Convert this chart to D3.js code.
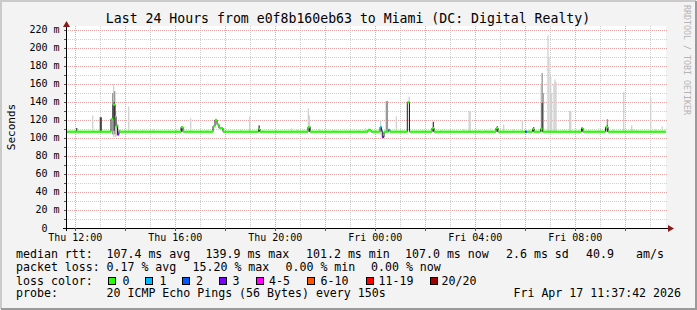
<!DOCTYPE html>
<html>
<head>
<meta charset="utf-8">
<script src="https://cdn.jsdelivr.net/npm/d3@7"></script>
<style>
  body { margin: 0; background: #f3f3f3; }
  svg { display: block; }
  text { font-family: "DejaVu Sans Mono", monospace; }
</style>
</head>
<body>
<script>
// times are hours since Thu 00:00 (Thu Apr 16 2026)
var startHour = 11.628, endHour = 35.628;

// median rtt as a step function: segment start, value (ms), lost pings
var medStart = [11.628, 13.428, 13.508, 13.588, 13.628, 13.688, 13.748, 13.788, 16.228, 16.308,
    17.508, 17.588, 17.668, 17.748, 17.908, 19.328, 19.388, 21.308, 21.388, 23.708,
    23.828, 24.188, 24.248, 24.28, 24.348, 24.528, 24.588, 25.28, 25.368, 26.268,
    26.348, 28.828, 28.908, 29.988, 30.068, 30.288, 30.348, 30.608, 30.688, 32.248,
    32.308, 33.208, 33.308];
var medValue = [107, 121, 137, 124, 113, 104, 108, 107, 112, 107,
    113, 120, 115, 111, 107, 110, 107, 112, 107, 109,
    107, 112, 108, 101, 107, 109, 107, 139.6, 107, 111,
    107, 111, 107, 107, 107, 110, 107, 110, 107, 111,
    107, 112, 107];
var medLoss = [0, 0, 0, 0, 0, 3, 0, 0, 0, 0,
    0, 0, 0, 0, 0, 0, 0, 0, 0, 0,
    0, 1, 2, 3, 0, 1, 0, 0, 0, 0,
    0, 0, 0, 2, 0, 0, 0, 0, 0, 0,
    0, 0, 0];

// smoke (spread of the 20 pings): time, low, high, shade 0 light / 1 mid / 2 dark
var smokeTime = [12.028, 12.668, 12.976, 13.008, 13.468, 13.508, 13.548, 13.528, 13.588, 13.628,
    13.668, 14.108, 16.228, 16.588, 18.948, 19.328, 21.296, 21.336, 21.348, 24.188,
    24.416, 24.456, 24.816, 25.328, 26.296, 27.728, 27.768, 28.856, 29.108, 29.856,
    30.308, 30.648, 30.608, 30.648, 30.688, 30.88, 30.92, 30.988, 31.028, 31.12,
    31.16, 31.2, 31.748, 31.788, 32.248, 33.256, 33.256, 33.908, 34.228, 34.988,
    35.456];
var smokeLow = [107, 107, 107, 107, 104, 101, 104, 108, 101, 102,
    103, 107, 107, 107, 107, 107, 107, 107, 107, 104,
    107, 107, 107, 107, 107, 107, 107, 107, 107, 107,
    107, 107, 107, 107, 107, 107, 107, 107, 107, 107,
    107, 107, 107, 107, 107, 107, 107, 107, 107, 107,
    107];
var smokeHigh = [111, 125, 123, 123, 150, 160, 152, 140, 130, 118,
    115, 135, 113, 122, 124, 114, 133, 125, 113, 120,
    141, 141, 124, 146, 118, 130, 130, 113, 115, 120,
    112, 172, 160, 139, 150, 214, 190, 168, 150, 160,
    165, 162, 130, 130, 111, 121, 114, 151, 114, 145,
    113];
var smokeShade = [2, 0, 2, 2, 1, 0, 1, 2, 0, 0,
    1, 0, 2, 0, 0, 2, 0, 0, 2, 0,
    1, 1, 0, 0, 2, 0, 0, 2, 0, 0,
    2, 1, 0, 2, 1, 0, 0, 0, 0, 0,
    0, 0, 0, 0, 2, 1, 2, 0, 0, 0,
    0];

// faint haze just above the median line
var hazeTime = [14.348, 14.668, 15.108, 16.028, 17.228, 18.588, 19.468, 20.628, 20.868, 21.108,
    21.748, 22.308, 23.308, 23.588, 25.868, 26.588, 27.508, 28.108, 28.388, 28.588,
    29.508, 30.108, 31.508, 32.108, 32.508, 32.908, 33.508, 34.308, 34.428, 35.188];
var hazeHigh = [110, 109, 110, 109, 110, 109, 110, 111, 110, 109,
    110, 109, 110, 111, 109, 110, 110, 110, 109, 111,
    110, 110, 109, 110, 110, 111, 110, 110, 109, 110];

var lossLabels = ["0", "1", "2", "3", "4-5", "6-10", "11-19", "20/20"];
var lossColors = ["#26ff00", "#00b8ff", "#0059ff", "#7e00ff", "#ff00ff", "#ff5500", "#ff0000", "#a10000"];
var yTicks = [0, 20, 40, 60, 80, 100, 120, 140, 160, 180, 200, 220];

var w = 697, h = 310;
var day0 = new Date(2026, 3, 16, 0, 0, 0).getTime();
function toDate(hr) { return new Date(day0 + hr * 3600e3); }

var x = d3.scaleTime().domain([toDate(startHour), toDate(endHour)]).range([66, 666]);
var y = d3.scaleLinear().domain([0, 224.4]).range([228, 26]);

var svg = d3.select("body").append("svg")
    .attr("width", w)
    .attr("height", h);

// frame
svg.append("rect").attr("width", w).attr("height", h).attr("fill", "#f3f3f3");
svg.append("path").attr("d", "M1,309V1H696").attr("fill", "none").attr("stroke", "#cacaca").attr("stroke-width", 2);
svg.append("path").attr("d", "M1,309H696V1").attr("fill", "none").attr("stroke", "#9a9a9a").attr("stroke-width", 2);

// canvas
svg.append("rect").attr("x", 66).attr("y", 26).attr("width", 600).attr("height", 202).attr("fill", "#fff");

// grid
var hours = d3.timeHour.range(toDate(startHour), toDate(endHour));
svg.selectAll(".vgrid")
    .data(hours)
    .enter()
    .append("line")
    .attr("x1", function(d) { return Math.round(x(d)) + 0.5; })
    .attr("x2", function(d) { return Math.round(x(d)) + 0.5; })
    .attr("y1", 26)
    .attr("y2", 228)
    .attr("stroke", function(d) { return d.getHours() % 2 == 0 ? "#e8a4a4" : "#cfcfcf"; })
    .attr("stroke-dasharray", "1,1");

var yGrid = d3.range(10, 221, 10);
svg.selectAll(".hgrid")
    .data(yGrid)
    .enter()
    .append("line")
    .attr("x1", 66)
    .attr("x2", 668)
    .attr("y1", function(d) { return Math.round(y(d)) + 0.5; })
    .attr("y2", function(d) { return Math.round(y(d)) + 0.5; })
    .attr("stroke", function(d) { return d % 20 == 0 ? "#e8a4a4" : "#cfcfcf"; })
    .attr("stroke-dasharray", "1,1");

// haze
var step = x(toDate(startHour + 150 / 3600)) - x(toDate(startHour));
svg.selectAll(".haze")
    .data(hazeTime)
    .enter()
    .append("rect")
    .attr("x", function(d) { return x(toDate(d)); })
    .attr("y", function(d, i) { return y(hazeHigh[i]); })
    .attr("width", step * 1.3)
    .attr("height", function(d, i) { return y(107) - y(hazeHigh[i]); })
    .attr("fill", "#dedede");

// smoke, light first then darker cores
var shadeColors = ["#d2d2d2", "#9a9a9a", "#444444"];
var smoke = d3.range(smokeTime.length).sort(function(a, b) { return smokeShade[a] - smokeShade[b]; });
svg.selectAll(".smoke")
    .data(smoke)
    .enter()
    .append("rect")
    .attr("x", function(i) { return x(toDate(smokeTime[i])); })
    .attr("y", function(i) { return y(smokeHigh[i]); })
    .attr("width", step * 1.3)
    .attr("height", function(i) { return y(smokeLow[i]) - y(smokeHigh[i]); })
    .attr("fill", function(i) { return shadeColors[smokeShade[i]]; });

// median: thin black step line, then loss coloured band on each segment
var segs = medStart.map(function(t, i) {
    return { t0: t, t1: i + 1 < medStart.length ? medStart[i + 1] : endHour, v: medValue[i], loss: medLoss[i] };
});
var stepPts = segs.map(function(s) { return [s.t0, s.v]; });
stepPts.push([endHour, medValue[medValue.length - 1]]);
svg.append("path")
    .attr("d", d3.line()
        .x(function(d) { return x(toDate(d[0])); })
        .y(function(d) { return y(d[1]); })
        .curve(d3.curveStepAfter)(stepPts))
    .attr("fill", "none")
    .attr("stroke", "#202020")
    .attr("stroke-width", 1);

svg.selectAll(".med")
    .data(segs)
    .enter()
    .append("rect")
    .attr("x", function(d) { return x(toDate(d.t0)); })
    .attr("y", function(d) { return y(d.v) - 1.1; })
    .attr("width", function(d) { return x(toDate(d.t1)) - x(toDate(d.t0)); })
    .attr("height", 2.2)
    .attr("fill", function(d) { return lossColors[d.loss]; });

// axes
svg.append("line").attr("x1", 66.5).attr("x2", 66.5).attr("y1", 231).attr("y2", 25).attr("stroke", "#000");
svg.append("line").attr("x1", 63).attr("x2", 670).attr("y1", 228.5).attr("y2", 228.5).attr("stroke", "#000");
svg.append("path").attr("d", "M63,27L70,27L66.5,21Z").attr("fill", "#8b1a1a");
svg.append("path").attr("d", "M668,225L668,232L674,228.5Z").attr("fill", "#8b1a1a");

svg.selectAll(".ytick")
    .data(yGrid)
    .enter()
    .append("line")
    .attr("x1", 64)
    .attr("x2", 66)
    .attr("y1", function(d) { return Math.round(y(d)) + 0.5; })
    .attr("y2", function(d) { return Math.round(y(d)) + 0.5; })
    .attr("stroke", "#555");

svg.selectAll(".xtick")
    .data(hours.filter(function(d) { return d.getHours() % 2 == 0; }))
    .enter()
    .append("line")
    .attr("x1", function(d) { return Math.round(x(d)) + 0.5; })
    .attr("x2", function(d) { return Math.round(x(d)) + 0.5; })
    .attr("y1", 228)
    .attr("y2", 231)
    .attr("stroke", "#555");

svg.selectAll(".ylabel")
    .data(yTicks)
    .enter()
    .append("text")
    .text(function(d) { return d == 0 ? "0" : d + " m"; })
    .attr("x", function(d) { return d == 0 ? 47.5 : 59.5; })
    .attr("y", function(d) { return y(d) + 3.5; })
    .attr("text-anchor", "end")
    .attr("font-size", "10px")
    .attr("fill", "#000");

var fmt = d3.timeFormat("%a %H:%M");
svg.selectAll(".xlabel")
    .data(hours.filter(function(d) { return d.getHours() % 4 == 0; }))
    .enter()
    .append("text")
    .text(function(d) { return fmt(d); })
    .attr("x", function(d) { return x(d); })
    .attr("y", 241)
    .attr("text-anchor", "middle")
    .attr("font-size", "10px")
    .attr("fill", "#000");

// titles
svg.append("text")
    .text("Last 24 Hours from e0f8b160eb63 to Miami (DC: Digital Realty)")
    .attr("x", 348).attr("y", 23)
    .attr("text-anchor", "middle")
    .attr("font-size", "13.2px");

svg.append("text")
    .text("Seconds")
    .attr("transform", "translate(15,127) rotate(-90)")
    .attr("text-anchor", "middle")
    .attr("font-size", "11px");

svg.append("text")
    .text("RRDTOOL / TOBI OETIKER")
    .attr("transform", "translate(684,5) rotate(90)")
    .attr("font-size", "8.3px")
    .attr("fill", "#b4b4b4");

// legend
var legend = [
    [16, 258, "median rtt:"], [106.5, 258, "107.4 ms avg"], [205.5, 258, "139.9 ms max"],
    [306, 258, "101.2 ms min"], [405, 258, "107.0 ms now"], [506, 258, "2.6 ms sd"],
    [586, 258, "40.9"], [636, 258, "am/s"],
    [16, 271, "packet loss:"], [106.5, 271, "0.17 % avg"], [192.5, 271, "15.20 % max"],
    [285.5, 271, "0.00 % min"], [371, 271, "0.00 % now"],
    [16, 284.5, "loss color:"],
    [16, 297, "probe:"], [106.5, 297, "20 ICMP Echo Pings (56 Bytes) every 150s"]
];
svg.selectAll(".leg")
    .data(legend)
    .enter()
    .append("text")
    .text(function(d) { return d[2]; })
    .attr("x", function(d) { return d[0]; })
    .attr("y", function(d) { return d[1]; })
    .attr("font-size", "11.6px")
    .attr("fill", "#000");

svg.append("text")
    .text("Fri Apr 17 11:37:42 2026")
    .attr("x", 681).attr("y", 297)
    .attr("text-anchor", "end")
    .attr("font-size", "11.6px");

var boxX = [108, 145, 181.5, 219, 256, 307, 365.5, 430];
var labX = [122.5, 159.5, 196, 232.5, 269, 320.5, 378.5, 441.5];
svg.selectAll(".lbox")
    .data(lossColors)
    .enter()
    .append("rect")
    .attr("x", function(d, i) { return Math.round(boxX[i]) + 0.5; })
    .attr("y", 277.5)
    .attr("width", 7)
    .attr("height", 7)
    .attr("fill", function(d) { return d; })
    .attr("stroke", "#000");
svg.selectAll(".llab")
    .data(lossLabels)
    .enter()
    .append("text")
    .text(function(d) { return d; })
    .attr("x", function(d, i) { return labX[i]; })
    .attr("y", 284.5)
    .attr("font-size", "11.6px");
</script>
</body>
</html>
